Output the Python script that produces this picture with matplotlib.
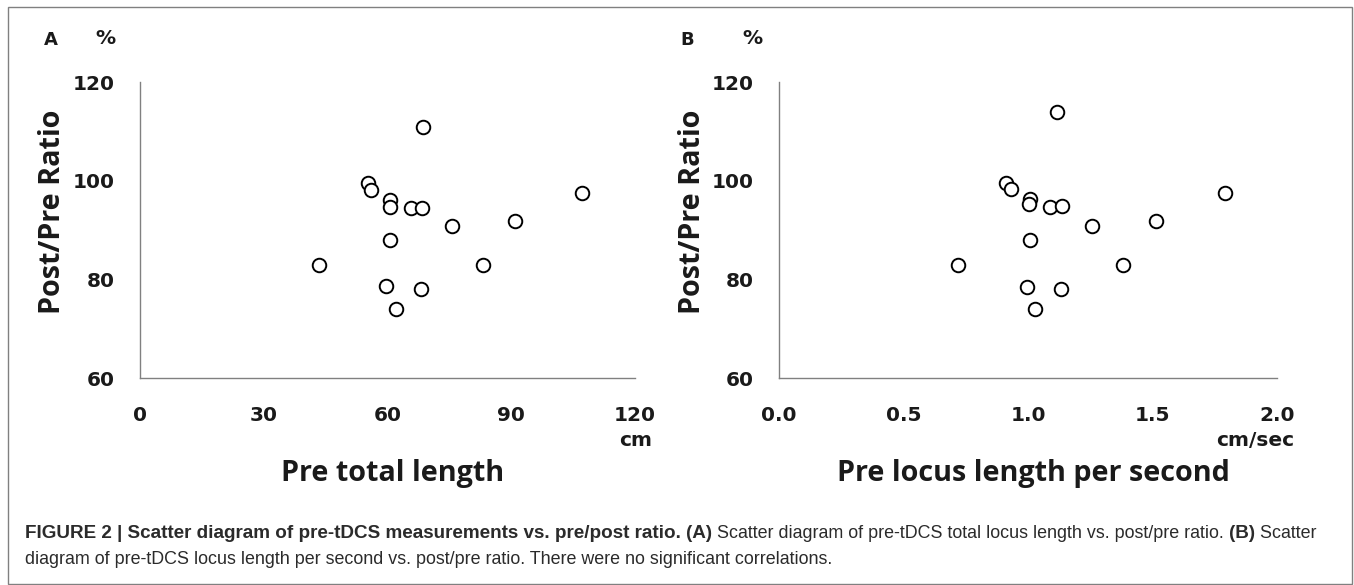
import matplotlib.pyplot as plt
from matplotlib import font_manager
from matplotlib.patches import Rectangle

# panel A: pre total length (cm) vs post/pre ratio (%)
total_length = [68.7, 55.2, 56.1, 60.7, 60.7, 65.6, 68.4, 75.6,
                90.8, 107.2, 60.7, 43.5, 83.2, 59.7, 68.1, 62.1]
ratio_a = [110.9, 99.6, 98.1, 96.1, 94.6, 94.4, 94.4, 90.9,
           91.9, 97.5, 87.9, 83.0, 82.9, 78.7, 78.1, 73.9]

# panel B: pre locus length per second (cm/sec) vs post/pre ratio (%)
locus_per_sec = [1.117, 0.913, 0.930, 1.010, 1.005, 1.089, 1.138, 1.256,
                 1.516, 1.791, 1.009, 0.720, 1.383, 0.997, 1.132, 1.030]
ratio_b = [114.0, 99.6, 98.4, 96.2, 95.2, 94.6, 94.8, 90.9,
           91.9, 97.5, 87.9, 82.9, 82.9, 78.5, 78.1, 73.9]

yticks = [60, 80, 100, 120]
xticks_a = [0, 30, 60, 90, 120]
xticks_b = [0.0, 0.5, 1.0, 1.5, 2.0]
xtick_labels_b = ["0.0", "0.5", "1.0", "1.5", "2.0"]

W, H = 1354, 585
fig = plt.figure(figsize=(W / 100, H / 100), dpi=100)


def px_axes(left, top, right, bottom):
    # axes placed from pixel coords of the reference
    return fig.add_axes([left / W, 1 - bottom / H, (right - left) / W, (bottom - top) / H])


def px_text(x, y, s, **kw):
    return fig.text(x / W, 1 - y / H, s, **kw)


tick_font = dict(family="DejaVu Sans", weight="bold", size=14.5, color="#1a1a1a")
title_font = dict(family="Open Sans", weight="bold", size=20.7, color="#1a1a1a")

panels = [
    ((140, 82, 635, 378), total_length, ratio_a, xticks_a,
     [str(t) for t in xticks_a], (0, 120), "cm", "Pre total length", "A", 51, 105),
    ((779, 82, 1277, 378), locus_per_sec, ratio_b, xticks_b,
     xtick_labels_b, (0, 2), "cm/sec", "Pre locus length per second", "B", 687, 752),
]

for box, xs, ys, xt, xtl, xlim, unit, xlabel, letter, letter_x, pct_x in panels:
    left, top, right, bottom = box
    ax = px_axes(*box)
    ax.scatter(xs, ys, s=95, facecolors="white", edgecolors="black", linewidths=1.4, zorder=3)
    ax.set_xlim(*xlim)
    ax.set_ylim(60, 120)
    ax.set_xticks(xt)
    ax.set_xticklabels(xtl, **tick_font)
    ax.set_yticks(yticks)
    ax.set_yticklabels([str(t) for t in yticks], **tick_font)
    ax.tick_params(length=0)
    ax.tick_params(axis="y", pad=18)
    ax.tick_params(axis="x", pad=20)
    for s in ["top", "right"]:
        ax.spines[s].set_visible(False)
    for s in ["left", "bottom"]:
        ax.spines[s].set_color("#808080")
        ax.spines[s].set_linewidth(1.0)

    # unit under the right end of the x axis, then titles
    px_text(right + 17, 440, unit, ha="right", va="center", **tick_font)
    px_text((left + right) / 2 + 5, 474, xlabel, ha="center", va="center", **title_font)
    px_text(left - 87, 212, "Post/Pre Ratio", rotation=90, ha="center", va="center", **title_font)
    px_text(letter_x, 40, letter, ha="center", va="center",
            family="DejaVu Sans", weight="bold", size=13, color="#1a1a1a")
    px_text(pct_x, 38, "%", ha="center", va="center", **tick_font)

# frame around the whole figure
fig.patches.append(Rectangle((8 / W, 1 / H), 1344 / W, 1 - 8 / H, transform=fig.transFigure,
                             fill=False, edgecolor="#808080", linewidth=1.0))

# caption: condensed face if we have one
names = {f.name for f in font_manager.fontManager.ttflist}
cap_family = "Liberation Sans Narrow" if "Liberation Sans Narrow" in names else "Liberation Sans"
cap_color = "#2b2b2b"

cap_bold = "FIGURE 2 | Scatter diagram of pre-tDCS measurements vs. pre/post ratio. "
cap_line2 = ("diagram of pre-tDCS locus length per second vs. post/pre ratio. "
             "There were no significant correlations.")

fig.canvas.draw()
renderer = fig.canvas.get_renderer()


def fit_size(text, weight, target_px):
    # size the caption font so a run of text is as wide as in the reference
    t = fig.text(0, 0, text, family=cap_family, weight=weight, size=10)
    w = t.get_window_extent(renderer=renderer).width
    t.remove()
    return 10 * target_px / w


bold_cap = dict(family=cap_family, weight="bold", color=cap_color,
                size=fit_size(cap_bold.strip(), "bold", 658))
reg_cap = dict(family=cap_family, weight="normal", color=cap_color,
               size=fit_size(cap_line2, "normal", 808))

pieces = [
    (cap_bold, bold_cap),
    ("(A)", bold_cap),
    (" Scatter diagram of pre-tDCS total locus length vs. post/pre ratio. ", reg_cap),
    ("(B)", bold_cap),
    (" Scatter", reg_cap),
]
x = 25
for txt, style in pieces:
    t = px_text(x, 533, txt, ha="left", va="center", **style)
    x += t.get_window_extent(renderer=renderer).width
px_text(25, 559, cap_line2, ha="left", va="center", **reg_cap)

fig.savefig("out.png", dpi=100)
